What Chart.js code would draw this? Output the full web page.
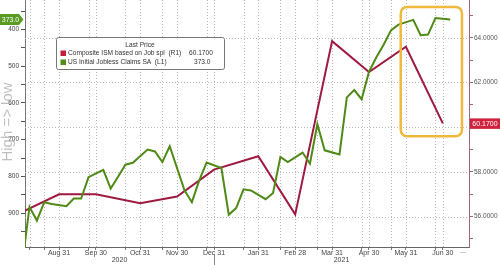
<!DOCTYPE html>
<html><head><meta charset="utf-8">
<script src="https://cdn.jsdelivr.net/npm/chart.js@4.4.1/dist/chart.umd.min.js"></script>
<style>html,body{margin:0;padding:0;background:#fff;overflow:hidden}#wrap{width:500px;height:265px;position:relative}canvas{display:block}</style>
</head><body><div id="wrap"><canvas id="c" width="500" height="265"></canvas></div>
<script>
// ---- data ----
const claimDates = ['2020-08-01','2020-08-08','2020-08-15','2020-08-22','2020-08-29','2020-09-05','2020-09-12','2020-09-19','2020-09-26','2020-10-03','2020-10-10','2020-10-17','2020-10-24','2020-10-31','2020-11-07','2020-11-14','2020-11-21','2020-11-28','2020-12-05','2020-12-12','2020-12-19','2020-12-26','2021-01-02','2021-01-09','2021-01-16','2021-01-23','2021-01-30','2021-02-06','2021-02-13','2021-02-20','2021-02-27','2021-03-06','2021-03-13','2021-03-20','2021-03-27','2021-04-03','2021-04-10','2021-04-17','2021-04-24','2021-05-01','2021-05-08','2021-05-15','2021-05-22','2021-05-29','2021-06-05','2021-06-12','2021-06-19','2021-06-26','2021-07-03'];
const claimValues = [1040,883,920,870,875,881,860,860,802,782,833,801,768,763,727,732,761,718,838,870,811,762,777,904,886,835,838,862,845,747,761,735,765,658,729,740,585,565,590,515,476,441,402,387,374,416,414,369,373];
const ismDates = ['2020-08-01','2020-09-01','2020-10-01','2020-11-01','2020-12-01','2021-01-01','2021-02-01','2021-03-01','2021-04-01','2021-05-01','2021-06-01','2021-07-01'];
const ismValues = [56.2,57.0,57.0,56.6,56.9,58.1,58.7,56.1,63.85,62.47,63.6,60.17];
const xTickLabels = ['Jul 31','Aug 31','Sep 30','Oct 31','Nov 30','Dec 31','Jan 31','Feb 28','Mar 31','Apr 30','May 31','Jun 30'];
const gridDates = ['2020-08-08','2020-08-22','2020-09-26','2020-10-24','2020-11-21','2020-12-26','2021-01-23','2021-02-20','2021-03-20','2021-04-24','2021-05-22','2021-06-26'];
const yearLabels = ['2020','2021'];
const seriesNames = ['Composite ISM based on Job spl  (R1)','US Initial Jobless Claims SA  (L1)'];
const leftAxisTitle = 'High => low';
const legendTitle = 'Last Price';

// ---- build ----
const GREEN = '#4f8a17', RED = '#9e1a40';
const slots = Array.from(new Set([...claimDates, ...ismDates])).sort();
const slotOf = d => slots.indexOf(d);
const claimPts = claimDates.map((d,i)=>({x:slotOf(d), y:claimValues[i]}));
const ismPts = ismDates.map((d,i)=>({x:slotOf(d), y:ismValues[i]}));
const labelBySlot = {};
ismDates.forEach((d,i)=>{ labelBySlot[slotOf(d)] = xTickLabels[i]; });
const X_MIN = 0.39, X_MAX = 60.55;
const xTickVals = [...ismDates, ...gridDates].map(slotOf).filter(v=>v>=X_MIN && v<=X_MAX).sort((a,b)=>a-b);
const lastClaim = claimValues[claimValues.length-1];
const lastIsm = ismValues[ismValues.length-1];
const highlight = {from: 51.3, to: 59.6, top: 339, bottom: 691};

const FONT = 'Liberation Sans';

function rrect(ctx,x,y,w,h,r){ctx.beginPath();ctx.moveTo(x+r,y);ctx.lineTo(x+w-r,y);ctx.quadraticCurveTo(x+w,y,x+w,y+r);ctx.lineTo(x+w,y+h-r);ctx.quadraticCurveTo(x+w,y+h,x+w-r,y+h);ctx.lineTo(x+r,y+h);ctx.quadraticCurveTo(x,y+h,x,y+h-r);ctx.lineTo(x,y+r);ctx.quadraticCurveTo(x,y,x+r,y);ctx.closePath();}
function noPad(s){ s.paddingTop = 0; s.paddingBottom = 0; s.paddingLeft = 0; s.paddingRight = 0; }

const deco = {
  id:'deco',
  beforeDatasetsDraw(chart){
    const {ctx, chartArea:a, scales} = chart;
    ctx.save();
    ctx.strokeStyle = '#b9b9b9'; ctx.lineWidth = 1; ctx.setLineDash([1,2]);
    scales.yR.ticks.forEach(t=>{
      if (t.value % 2 === 0) {
        const y = Math.round(scales.yR.getPixelForValue(t.value)) + 0.5;
        ctx.beginPath(); ctx.moveTo(a.left, y); ctx.lineTo(a.right, y); ctx.stroke();
      }
    });
    scales.x.ticks.forEach(t=>{
      const x = Math.round(scales.x.getPixelForValue(t.value)) + 0.5;
      ctx.beginPath(); ctx.moveTo(x, a.top); ctx.lineTo(x, a.bottom); ctx.stroke();
    });
    ctx.restore();
  },
  afterDraw(chart){
    const {ctx, chartArea:a, scales} = chart;
    ctx.save();
    // highlight box
    const hx1 = scales.x.getPixelForValue(highlight.from), hx2 = scales.x.getPixelForValue(highlight.to);
    const hy1 = scales.yL.getPixelForValue(highlight.top), hy2 = scales.yL.getPixelForValue(highlight.bottom);
    ctx.strokeStyle = '#efb93e'; ctx.lineWidth = 2.5;
    rrect(ctx, hx1, hy1, hx2-hx1, hy2-hy1, 7); ctx.stroke();

    // legend
    const lx = 56.5, ly = 37.5, lw = 168, lh = 32;
    ctx.fillStyle = '#fff'; ctx.strokeStyle = '#777'; ctx.lineWidth = 1;
    rrect(ctx, lx, ly, lw, lh, 2); ctx.fill(); ctx.stroke();
    ctx.fillStyle = '#333'; ctx.font = '6.6px "'+FONT+'"'; ctx.textBaseline = 'middle';
    ctx.textAlign = 'center'; ctx.fillText(legendTitle, 140, 45);
    ctx.textAlign = 'left';
    ctx.fillStyle = '#c21f3b'; ctx.fillRect(60.5, 50.5, 5.5, 5.5);
    ctx.fillStyle = '#4f8f1a'; ctx.fillRect(60.5, 59.5, 5.5, 5.5);
    ctx.fillStyle = '#333';
    ctx.fillText(seriesNames[0], 68, 53.5);
    ctx.fillText(seriesNames[1], 68, 62.5);
    ctx.fillText(lastIsm.toFixed(4), 189, 53.5);
    ctx.fillText(lastClaim.toFixed(1), 194, 62.5);

    // left tag
    const ty = scales.yL.getPixelForValue(lastClaim);
    ctx.fillStyle = '#5a9b22';
    ctx.beginPath(); ctx.moveTo(0, ty-5.5); ctx.lineTo(19, ty-5.5); ctx.lineTo(23.5, ty); ctx.lineTo(19, ty+5.5); ctx.lineTo(0, ty+5.5); ctx.closePath(); ctx.fill();
    ctx.fillStyle = '#fff'; ctx.textAlign = 'center'; ctx.font = '7px "'+FONT+'"';
    ctx.fillText(lastClaim.toFixed(1), 10.5, ty+0.5);

    // right tag
    const ry = scales.yR.getPixelForValue(lastIsm);
    ctx.fillStyle = '#cf223d';
    ctx.fillRect(a.right+1, ry-5, chart.width-a.right-1, 10.5);
    ctx.fillStyle = '#fff';
    ctx.fillText(lastIsm.toFixed(4), (a.right+1+chart.width)/2, ry+0.5);

    // y axis title
    ctx.save();
    ctx.translate(7.5, 122); ctx.rotate(-Math.PI/2);
    ctx.fillStyle = 'rgba(170,170,170,0.75)'; ctx.font = '15px "'+FONT+'"'; ctx.textAlign = 'center'; ctx.textBaseline = 'middle';
    ctx.fillText(leftAxisTitle, 0, 0);
    ctx.restore();

    // year labels
    const sep = scales.x.getPixelForValue(slotOf('2021-01-01'));
    ctx.strokeStyle = '#888'; ctx.lineWidth = 1;
    ctx.beginPath(); ctx.moveTo(Math.round(sep)+0.5, 255); ctx.lineTo(Math.round(sep)+0.5, 265); ctx.stroke();
    ctx.fillStyle = '#444'; ctx.font = '7px "'+FONT+'"'; ctx.textAlign = 'center'; ctx.textBaseline = 'middle';
    ctx.fillText(yearLabels[0], (a.left+sep)/2, 260.5);
    ctx.fillText(yearLabels[1], (sep+a.right)/2, 260.5);
    ctx.fillText('...', a.right-6, 251.5);
    ctx.restore();
  }
};

new Chart(document.getElementById('c').getContext('2d'), {
  type:'line',
  data:{datasets:[
    {label:seriesNames[1], data:claimPts, yAxisID:'yL', borderColor:GREEN, backgroundColor:GREEN, borderWidth:2, pointRadius:0, tension:0, order:0},
    {label:seriesNames[0], data:ismPts, yAxisID:'yR', borderColor:RED, backgroundColor:RED, borderWidth:2, pointRadius:0, tension:0, order:1}
  ]},
  options:{
    responsive:false, animation:false, devicePixelRatio:1,
    layout:{padding:0},
    plugins:{legend:{display:false}, tooltip:{enabled:false}},
    scales:{
      x:{type:'linear', position:'bottom', min:X_MIN, max:X_MAX,
        afterBuildTicks:s=>{ s.ticks = xTickVals.map(v=>({value:v})); },
        afterFit:s=>{ s.height = 18; noPad(s); },
        ticks:{autoSkip:false, maxRotation:0, minRotation:0, padding:-1, color:'#444', font:{family:FONT, size:7},
          callback:v=> labelBySlot[v] !== undefined ? labelBySlot[v] : ''},
        grid:{drawOnChartArea:false, drawTicks:true, tickLength:3, tickColor:'#777'},
        border:{display:true, color:'#666', width:1}
      },
      yL:{type:'linear', position:'left', reverse:true, min:320, max:992,
        afterBuildTicks:s=>{ const t=[]; for(let v=350; v<=950; v+=50) t.push({value:v}); s.ticks=t; },
        afterFit:s=>{ s.width = 25; noPad(s); },
        ticks:{autoSkip:false, padding:2, color:'#444', font:{family:FONT, size:6.5},
          callback:v=> v % 100 === 0 ? String(v) : ''},
        grid:{drawOnChartArea:false, drawTicks:true, tickLength:4, tickColor:'#555'},
        border:{display:true, color:'#777', width:1}
      },
      yR:{type:'linear', position:'right', min:54.64, max:65.69,
        afterBuildTicks:s=>{ const t=[]; for(let v=55; v<=65; v+=1) t.push({value:v}); s.ticks=t; },
        afterFit:s=>{ s.width = 31; noPad(s); },
        ticks:{autoSkip:false, padding:1, color:'#555', font:{family:FONT, size:6.5},
          callback:v=> (v % 2 === 0 && Math.abs(v-lastIsm) > 0.8) ? v.toFixed(4) : ''},
        grid:{drawOnChartArea:false, drawTicks:true, tickLength:4, tickColor:'#9a6a7a'},
        border:{display:true, color:'#9a6a7a', width:1}
      }
    }
  },
  plugins:[deco]
});
</script>
</body></html>
